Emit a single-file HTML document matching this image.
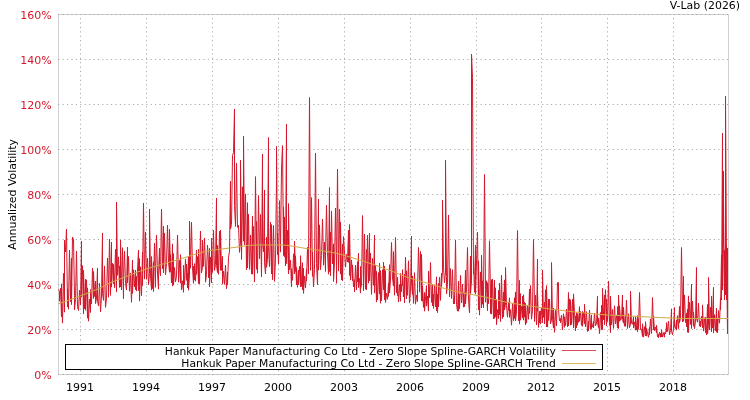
<!DOCTYPE html><html><head><meta charset="utf-8"><title>V-Lab</title><style>html,body{margin:0;padding:0;background:#fff;overflow:hidden}svg{display:block;will-change:transform}</style></head><body><svg width="750" height="400" viewBox="0 0 750 400"><rect width="750" height="400" fill="#fff"/><rect x="58.5" y="14.5" width="670" height="360" fill="none" stroke="#d0d0d0" stroke-width="1"/><g stroke="#a6a6a6" stroke-width="1" stroke-dasharray="1.1 3.3"><line x1="80.5" y1="14.5" x2="80.5" y2="374" stroke-dashoffset="0.75" /><line x1="146.5" y1="14.5" x2="146.5" y2="374" stroke-dashoffset="0.75" /><line x1="212.5" y1="14.5" x2="212.5" y2="374" stroke-dashoffset="0.75" /><line x1="278.5" y1="14.5" x2="278.5" y2="374" stroke-dashoffset="0.75" /><line x1="344.5" y1="14.5" x2="344.5" y2="374" stroke-dashoffset="0.75" /><line x1="410.5" y1="14.5" x2="410.5" y2="374" stroke-dashoffset="0.75" /><line x1="476.5" y1="14.5" x2="476.5" y2="374" stroke-dashoffset="0.75" /><line x1="541.5" y1="14.5" x2="541.5" y2="374" stroke-dashoffset="0.75" /><line x1="607.5" y1="14.5" x2="607.5" y2="374" stroke-dashoffset="0.75" /><line x1="673.5" y1="14.5" x2="673.5" y2="374" stroke-dashoffset="0.75" /><line x1="58.25" y1="14.5" x2="728" y2="14.5" /><line x1="58.25" y1="59.5" x2="728" y2="59.5" /><line x1="58.25" y1="104.5" x2="728" y2="104.5" /><line x1="58.25" y1="149.5" x2="728" y2="149.5" /><line x1="58.25" y1="194.5" x2="728" y2="194.5" /><line x1="58.25" y1="239.5" x2="728" y2="239.5" /><line x1="58.25" y1="284.5" x2="728" y2="284.5" /><line x1="58.25" y1="329.5" x2="728" y2="329.5" /><line x1="58.25" y1="374.5" x2="728" y2="374.5" /></g><polyline points="58.50,289.4 59.50,291.6 59.50,301.2 60.50,288.2 61.50,316.9 61.50,283.8 62.50,323.1 63.50,273.4 64.50,312.2 64.50,240.0 65.50,252.0 66.50,229.0 67.50,307.0 67.50,288.9 68.50,309.2 68.50,303.2 69.50,250.0 70.50,298.8 70.50,301.6 71.50,258.1 71.50,304.6 72.50,237.0 73.50,240.0 74.50,295.6 74.50,309.8 75.50,299.6 76.50,251.0 77.50,306.8 78.50,310.5 79.50,290.1 80.50,304.8 81.50,241.0 81.50,297.1 82.50,265.6 83.50,313.7 83.50,270.4 84.50,309.0 85.50,279.3 85.50,310.3 86.50,279.8 87.50,318.2 87.50,287.9 88.50,321.2 89.50,299.0 90.50,312.5 90.50,289.6 91.50,303.9 92.50,268.0 93.50,298.5 93.50,271.5 94.50,296.5 95.50,281.0 95.50,303.6 96.50,298.1 97.50,268.0 97.50,301.3 98.50,305.9 99.50,283.4 100.50,311.8 101.50,296.1 102.50,233.0 102.50,293.6 103.50,300.3 104.50,265.9 105.50,307.3 106.50,298.2 107.50,258.0 108.50,284.8 108.50,297.2 109.50,239.1 110.50,295.4 111.50,242.0 111.50,287.1 112.50,263.3 113.50,283.7 113.50,264.4 114.50,287.7 115.50,249.4 116.50,292.1 116.50,202.0 117.50,275.3 118.50,256.9 119.50,287.5 119.50,265.9 120.50,287.0 120.50,240.0 121.50,289.9 122.50,247.7 123.50,299.0 123.50,281.5 124.50,251.0 125.50,283.6 126.50,290.0 127.50,247.0 127.50,282.8 128.50,256.4 129.50,291.2 130.50,273.2 131.50,302.3 132.50,260.0 132.50,293.4 133.50,269.7 134.50,286.8 135.50,270.1 135.50,289.7 136.50,276.4 136.50,291.1 138.50,250.0 138.50,290.7 139.50,258.5 139.50,301.1 140.50,266.8 141.50,295.7 142.50,252.2 142.50,285.5 143.50,203.0 144.50,279.1 145.50,232.2 146.50,279.3 147.50,258.1 148.50,284.6 149.50,273.4 149.50,209.0 150.50,275.8 151.50,290.1 151.50,256.5 152.50,288.6 153.50,261.8 153.50,291.5 154.50,243.1 155.50,287.3 155.50,275.9 156.50,235.0 157.50,273.1 158.50,289.2 158.50,276.1 159.50,248.0 159.50,266.2 160.50,275.6 161.50,209.0 162.50,268.7 163.50,226.2 163.50,273.0 164.50,233.3 165.50,274.9 166.50,263.4 167.50,225.0 168.50,262.1 169.50,272.3 169.50,229.0 170.50,271.7 170.50,254.6 171.50,282.8 172.50,243.9 172.50,286.1 173.50,253.5 173.50,285.1 174.50,267.5 175.50,281.8 176.50,276.3 177.50,235.0 178.50,274.5 178.50,282.2 179.50,260.5 180.50,283.2 180.50,254.7 181.50,289.8 182.50,280.8 183.50,292.3 183.50,265.0 184.50,284.7 185.50,258.9 186.50,280.3 186.50,264.0 187.50,284.6 187.50,273.6 187.50,288.0 188.50,256.6 188.50,290.2 189.50,275.3 189.50,221.0 190.50,268.3 191.50,222.0 192.50,267.8 193.50,283.3 193.50,266.2 194.50,280.1 194.50,263.6 195.50,281.2 196.50,250.0 196.50,274.3 197.50,256.6 198.50,283.7 198.50,249.4 199.50,283.7 200.50,231.0 201.50,272.8 202.50,267.1 202.50,240.0 203.50,266.3 204.50,238.0 205.50,270.3 205.50,282.2 206.50,274.3 207.50,245.0 208.50,264.8 208.50,277.8 209.50,248.4 209.50,286.9 210.50,257.2 211.50,282.9 211.50,238.1 212.50,272.5 213.50,230.0 214.50,270.5 215.50,264.4 216.50,198.0 216.50,265.6 217.50,272.6 217.50,245.4 218.50,274.3 219.50,231.2 220.50,270.3 220.50,230.0 221.50,270.4 222.50,256.4 222.50,284.2 223.50,271.2 224.50,284.4 225.50,265.3 226.50,288.7 227.50,272.1 227.50,284.7 228.50,257.7 229.50,251.0 230.50,181.0 230.50,229.0 231.50,224.5 232.50,155.5 233.50,152.5 234.50,109.0 234.50,205.5 235.50,226.5 236.50,163.0 237.50,227.4 238.50,225.3 239.50,252.4 240.50,242.0 240.50,160.0 241.50,240.6 241.50,259.4 242.50,186.8 243.50,241.2 243.50,136.0 244.50,244.7 245.50,193.9 246.50,269.8 247.50,202.7 247.50,268.0 248.50,214.3 249.50,269.4 250.50,235.1 251.50,274.1 252.50,216.0 252.50,274.2 253.50,226.4 254.50,282.0 255.50,176.6 256.50,269.3 256.50,221.5 257.50,273.2 258.50,195.5 259.50,258.7 260.50,214.5 261.50,276.9 262.50,154.0 262.50,243.5 263.50,251.9 264.50,190.0 264.50,262.8 265.50,274.0 266.50,237.3 266.50,267.3 267.50,259.6 268.50,137.5 268.50,247.7 269.50,266.5 270.50,222.2 271.50,274.0 271.50,224.6 272.50,279.7 273.50,225.5 274.50,281.4 275.50,259.8 276.50,179.5 276.50,146.5 277.50,254.7 277.50,233.4 278.50,264.1 279.50,200.6 280.50,252.1 280.50,247.5 281.50,169.0 282.50,145.6 283.50,255.5 283.50,206.9 284.50,256.9 284.50,217.0 285.50,266.0 286.50,124.0 286.50,263.6 287.50,230.4 288.50,273.8 288.50,203.6 289.50,269.8 290.50,260.2 291.50,286.9 291.50,268.8 292.50,280.3 293.50,253.8 294.50,273.8 294.50,241.4 295.50,271.4 295.50,255.8 296.50,284.8 296.50,267.6 297.50,287.3 298.50,270.0 298.50,284.6 299.50,266.4 300.50,286.9 300.50,255.7 301.50,286.5 302.50,262.7 302.50,289.9 303.50,268.3 303.50,293.4 304.50,276.2 305.50,287.8 306.50,269.4 306.50,281.1 307.50,247.2 308.50,274.1 308.50,267.3 309.50,97.5 310.50,257.3 310.50,270.3 311.50,197.6 312.50,276.4 312.50,252.2 313.50,286.9 314.50,269.7 315.50,153.0 316.50,263.7 317.50,284.7 318.50,199.0 318.50,270.1 319.50,224.8 320.50,269.7 321.50,255.4 322.50,219.0 323.50,258.7 323.50,265.2 324.50,242.2 325.50,271.5 325.50,255.8 326.50,205.0 327.50,252.5 328.50,274.2 329.50,187.5 329.50,271.5 330.50,232.3 330.50,275.9 331.50,211.0 332.50,264.0 333.50,243.8 333.50,281.5 334.50,262.9 335.50,208.0 336.50,265.4 336.50,283.3 337.50,169.0 338.50,271.1 339.50,209.0 340.50,274.1 340.50,222.1 341.50,280.0 342.50,244.3 342.50,280.8 343.50,236.6 345.50,267.2 346.50,254.3 347.50,262.0 348.50,230.0 348.50,262.4 349.50,234.3 349.50,275.4 349.50,224.5 350.50,280.1 351.50,259.9 352.50,280.8 352.50,264.9 353.50,287.0 354.50,279.7 354.50,291.8 355.50,265.0 356.50,290.0 357.50,261.7 357.50,281.8 358.50,253.2 358.50,287.7 359.50,278.4 360.50,293.1 360.50,266.5 360.50,289.2 361.50,285.6 362.50,215.6 363.50,279.8 363.50,290.6 364.50,234.2 365.50,289.2 366.50,249.5 366.50,289.8 367.50,235.2 368.50,283.2 369.50,233.1 369.50,280.8 370.50,253.0 371.50,294.4 372.50,258.4 373.50,285.3 374.50,235.0 374.50,293.1 375.50,264.9 376.50,302.1 376.50,271.4 377.50,299.7 378.50,272.6 379.50,294.1 379.50,263.0 380.50,303.3 380.50,270.6 381.50,300.8 382.50,269.7 383.50,289.7 383.50,262.1 384.50,299.9 384.50,266.2 385.50,301.1 385.50,270.5 385.50,302.4 386.50,293.3 387.50,299.3 388.50,283.1 388.50,296.4 389.50,264.7 389.50,293.0 390.50,280.1 391.50,242.5 392.50,278.0 393.50,286.0 393.50,251.6 394.50,295.2 395.50,237.5 396.50,292.9 396.50,285.4 397.50,295.7 397.50,277.4 398.50,301.9 399.50,284.6 400.50,301.3 400.50,273.5 401.50,291.7 401.50,284.1 402.50,285.4 402.50,269.7 403.50,296.8 404.50,274.0 404.50,303.0 405.50,257.0 406.50,298.9 406.50,270.9 407.50,295.3 408.50,260.8 409.50,303.1 410.50,291.2 411.50,236.0 411.50,282.1 412.50,294.5 412.50,275.9 413.50,303.4 414.50,272.7 415.50,304.2 416.50,295.3 417.50,301.6 417.50,288.7 418.50,247.5 419.50,281.8 419.50,292.1 420.50,251.5 421.50,300.8 421.50,254.3 422.50,301.2 422.50,286.0 423.50,307.4 424.50,292.5 424.50,311.2 426.50,285.7 426.50,306.1 427.50,296.0 428.50,311.1 428.50,271.1 429.50,297.8 430.50,262.5 431.50,302.4 432.50,284.4 432.50,305.9 433.50,294.3 433.50,308.4 434.50,284.8 435.50,306.8 436.50,276.8 436.50,310.8 437.50,294.1 437.50,312.6 438.50,283.6 438.50,307.0 439.50,277.3 440.50,300.4 441.50,273.2 441.50,286.3 442.50,270.9 442.50,200.0 443.50,267.2 444.50,282.7 445.50,272.1 445.50,160.0 446.50,276.5 446.50,294.0 447.50,284.4 448.50,215.0 449.50,287.0 449.50,296.9 450.50,268.6 451.50,298.5 452.50,269.7 453.50,304.0 454.50,296.3 454.50,303.5 454.50,303.9 455.50,240.0 456.50,304.6 457.50,311.1 458.50,281.2 458.50,311.2 459.50,294.6 459.50,308.7 460.50,275.4 461.50,303.0 462.50,284.2 463.50,307.2 463.50,292.9 464.50,306.8 465.50,270.2 465.50,304.0 466.50,289.0 467.50,247.5 468.50,300.2 469.50,312.8 470.50,256.1 470.50,293.5 471.50,280.9 471.50,54.0 472.50,77.5 473.50,274.1 473.50,260.6 474.50,292.3 475.50,245.0 475.50,294.3 477.50,232.0 478.50,309.8 478.50,260.8 479.50,315.1 480.50,271.9 481.50,308.0 481.50,255.1 482.50,304.2 482.50,280.8 483.50,307.7 483.50,295.3 484.50,174.5 485.50,289.4 485.50,302.2 486.50,280.8 487.50,310.8 487.50,282.6 488.50,299.4 488.50,303.7 489.50,240.8 490.50,294.5 490.50,313.6 491.50,279.7 491.50,314.1 492.50,279.0 493.50,318.8 494.50,280.2 494.50,318.3 495.50,287.8 495.50,317.1 496.50,299.6 496.50,324.6 497.50,309.6 498.50,318.6 498.50,290.3 499.50,314.9 499.50,283.2 500.50,321.6 501.50,275.1 502.50,318.5 503.50,292.2 503.50,316.9 504.50,279.9 504.50,309.9 505.50,304.2 505.50,267.5 506.50,305.4 507.50,317.2 508.50,303.0 508.50,310.3 509.50,297.8 509.50,317.4 510.50,309.6 511.50,325.2 512.50,303.5 513.50,320.7 514.50,297.8 514.50,318.4 515.50,291.9 515.50,320.9 516.50,312.0 517.50,230.5 518.50,311.8 518.50,320.9 519.50,280.4 519.50,324.1 520.50,293.6 520.50,320.1 521.50,306.4 522.50,318.1 522.50,296.1 523.50,320.1 523.50,294.7 524.50,317.1 524.50,302.3 525.50,325.0 525.50,303.3 526.50,323.2 527.50,305.4 528.50,319.3 529.50,289.2 529.50,313.4 530.50,285.6 531.50,319.2 532.50,310.8 533.50,239.5 534.50,309.6 534.50,321.5 535.50,295.2 536.50,324.9 537.50,259.0 537.50,311.2 537.50,291.0 538.50,327.4 539.50,311.2 539.50,322.9 540.50,310.9 540.50,324.1 541.50,307.8 542.50,322.7 542.50,270.0 543.50,317.4 544.50,302.2 544.50,323.8 545.50,289.7 546.50,327.0 546.50,285.7 547.50,327.1 548.50,299.2 548.50,320.5 549.50,299.2 550.50,323.8 551.50,320.2 551.50,262.5 552.50,319.3 553.50,328.0 553.50,308.0 554.50,332.3 555.50,310.4 556.50,325.9 557.50,282.5 558.50,282.5 558.50,309.8 559.50,320.9 560.50,318.7 560.50,322.7 561.50,315.1 562.50,330.0 563.50,313.7 564.50,327.3 564.50,316.8 565.50,325.7 566.50,309.1 567.50,326.8 568.50,292.5 568.50,325.9 569.50,298.8 570.50,325.2 570.50,299.8 571.50,324.5 572.50,299.2 573.50,327.9 573.50,293.9 575.50,330.9 575.50,315.9 576.50,327.8 576.50,312.7 577.50,325.2 577.50,313.6 578.50,322.4 579.50,306.6 579.50,321.3 580.50,311.6 581.50,325.5 582.50,311.3 582.50,326.3 583.50,312.3 584.50,323.9 584.50,304.2 585.50,327.0 586.50,311.7 587.50,331.5 588.50,321.3 588.50,330.9 589.50,310.1 590.50,329.3 591.50,314.9 591.50,328.6 591.50,322.8 592.50,327.1 593.50,321.3 593.50,328.0 594.50,313.0 595.50,326.0 596.50,323.1 597.50,296.2 597.50,322.4 598.50,327.6 598.50,317.9 599.50,333.7 600.50,312.6 601.50,329.7 601.50,305.3 602.50,329.5 602.50,288.3 603.50,319.8 604.50,295.1 604.50,324.7 605.50,289.7 606.50,325.9 606.50,299.2 607.50,321.4 608.50,281.0 609.50,325.3 609.50,314.1 610.50,332.6 610.50,296.2 611.50,324.9 612.50,309.5 613.50,328.3 614.50,305.8 615.50,323.8 616.50,315.1 617.50,328.1 617.50,306.6 618.50,328.5 618.50,295.0 619.50,321.3 619.50,305.9 620.50,320.3 621.50,318.7 622.50,295.0 622.50,319.5 623.50,323.1 623.50,307.3 624.50,326.2 625.50,315.7 625.50,326.4 626.50,300.0 627.50,328.5 628.50,313.8 629.50,327.7 630.50,324.1 630.50,291.2 631.50,323.0 632.50,324.3 633.50,316.8 633.50,328.0 634.50,321.9 635.50,330.2 635.50,316.6 636.50,329.9 637.50,315.6 637.50,332.0 638.50,319.1 638.50,329.2 639.50,292.5 640.50,329.6 641.50,329.1 642.50,336.5 642.50,323.8 643.50,337.1 644.50,326.7 645.50,336.0 645.50,321.7 646.50,336.1 646.50,328.4 648.50,337.3 649.50,327.4 649.50,334.6 650.50,318.9 651.50,333.5 652.50,297.5 653.50,329.9 653.50,316.2 654.50,330.7 655.50,327.1 656.50,333.0 656.50,325.3 657.50,336.8 658.50,334.0 658.50,337.7 659.50,332.2 660.50,337.2 660.50,333.2 661.50,337.0 661.50,329.8 662.50,337.1 663.50,332.6 664.50,337.2 664.50,332.5 665.50,334.0 666.50,326.2 666.50,331.9 666.50,322.7 667.50,331.5 668.50,321.0 669.50,334.8 670.50,330.4 671.50,308.8 671.50,331.3 672.50,334.8 673.50,329.0 674.50,307.5 674.50,326.3 675.50,328.8 676.50,320.1 676.50,330.2 677.50,315.7 678.50,328.7 679.50,306.4 679.50,322.7 680.50,317.9 681.50,247.5 682.50,310.3 682.50,322.0 683.50,276.2 683.50,321.3 684.50,294.9 685.50,322.5 686.50,313.4 686.50,326.8 687.50,309.2 687.50,332.3 688.50,295.9 688.50,332.5 689.50,302.3 690.50,324.5 691.50,284.3 691.50,328.5 692.50,301.2 693.50,326.2 693.50,312.1 694.50,328.7 695.50,321.1 696.50,267.5 696.50,318.1 697.50,322.2 698.50,303.0 699.50,326.2 700.50,321.0 700.50,326.8 701.50,316.4 702.50,327.7 702.50,304.9 703.50,331.1 704.50,317.7 705.50,332.6 705.50,317.2 706.50,334.8 707.50,304.4 707.50,334.0 708.50,325.5 708.50,277.5 709.50,326.1 709.50,329.9 710.50,307.2 711.50,332.0 711.50,296.3 712.50,328.1 713.50,287.3 713.50,333.1 714.50,314.7 715.50,331.0 716.50,308.0 716.50,332.2 717.50,319.3 717.50,333.0 718.50,310.6 719.50,323.2 720.50,297.9 720.50,310.0 721.50,255.0 721.50,300.0 722.50,133.0 722.50,290.0 723.50,240.0 723.50,171.0 723.50,200.0 724.50,300.0 724.50,250.0 725.50,295.0 725.50,96.0 726.50,260.0 726.50,300.0 726.50,245.0 727.50,334.0 727.50,248.0" fill="none" stroke="#d5192c" stroke-width="1" stroke-linejoin="round"/><polyline points="58.0,304.0 60.0,303.3 62.0,302.6 64.0,301.9 66.0,301.2 68.0,300.5 70.0,299.7 72.0,299.0 74.0,298.3 76.0,297.5 78.0,296.8 80.0,296.0 82.0,295.2 84.0,294.5 86.0,293.7 88.0,293.0 90.0,292.2 92.0,291.4 94.0,290.6 96.0,289.8 98.0,288.9 100.0,288.0 102.0,287.0 104.0,285.9 106.0,284.8 108.0,283.8 110.0,282.9 112.0,282.1 114.0,281.3 116.0,280.5 118.0,279.8 120.0,279.0 122.0,278.2 124.0,277.4 126.0,276.6 128.0,275.8 130.0,275.0 132.0,274.2 134.0,273.4 136.0,272.6 138.0,271.8 140.0,271.1 142.0,270.4 144.0,269.7 146.0,269.0 148.0,268.4 150.0,267.8 152.0,267.2 154.0,266.6 156.0,266.1 158.0,265.5 160.0,264.9 162.0,264.3 164.0,263.7 166.0,263.1 168.0,262.5 170.0,261.9 172.0,261.4 174.0,260.8 176.0,260.2 178.0,259.6 180.0,259.0 182.0,258.4 184.0,257.8 186.0,257.2 188.0,256.5 190.0,255.9 192.0,255.2 194.0,254.6 196.0,254.0 198.0,253.4 200.0,252.9 202.0,252.3 204.0,251.8 206.0,251.4 208.0,251.0 210.0,250.6 212.0,250.3 214.0,250.0 216.0,249.7 218.0,249.5 220.0,249.2 222.0,249.0 224.0,248.7 226.0,248.5 228.0,248.2 230.0,248.0 232.0,247.7 234.0,247.5 236.0,247.2 238.0,246.9 240.0,246.6 242.0,246.3 244.0,246.1 246.0,245.8 248.0,245.6 250.0,245.4 252.0,245.2 254.0,245.1 256.0,245.0 258.0,245.0 260.0,245.0 262.0,245.0 264.0,245.0 266.0,245.0 268.0,245.0 270.0,245.0 272.0,245.0 274.0,245.0 276.0,245.0 278.0,245.0 280.0,245.0 282.0,245.0 284.0,245.1 286.0,245.3 288.0,245.5 290.0,245.8 292.0,246.1 294.0,246.4 296.0,246.7 298.0,247.1 300.0,247.4 302.0,247.8 304.0,248.1 306.0,248.5 308.0,248.8 310.0,249.0 312.0,249.3 314.0,249.6 316.0,249.8 318.0,250.1 320.0,250.4 322.0,250.7 324.0,251.0 326.0,251.3 328.0,251.6 330.0,252.0 332.0,252.4 334.0,252.8 336.0,253.3 338.0,253.8 340.0,254.3 342.0,254.8 344.0,255.4 346.0,255.9 348.0,256.5 350.0,257.1 352.0,257.7 354.0,258.3 356.0,258.9 358.0,259.5 360.0,260.1 362.0,260.7 364.0,261.4 366.0,262.0 368.0,262.7 370.0,263.4 372.0,264.0 374.0,264.7 376.0,265.4 378.0,266.1 380.0,266.9 382.0,267.6 384.0,268.3 386.0,269.0 388.0,269.8 390.0,270.5 392.0,271.3 394.0,272.0 396.0,272.9 398.0,273.7 400.0,274.5 402.0,275.3 404.0,276.1 406.0,276.8 408.0,277.5 410.0,278.1 412.0,278.7 414.0,279.3 416.0,279.9 418.0,280.4 420.0,281.0 422.0,281.6 424.0,282.2 426.0,282.8 428.0,283.4 430.0,284.0 432.0,284.6 434.0,285.2 436.0,285.8 438.0,286.4 440.0,287.0 442.0,287.7 444.0,288.3 446.0,288.9 448.0,289.4 450.0,290.0 452.0,290.5 454.0,291.1 456.0,291.5 458.0,292.0 460.0,292.4 462.0,292.8 464.0,293.2 466.0,293.5 468.0,293.9 470.0,294.2 472.0,294.5 474.0,294.9 476.0,295.2 478.0,295.6 480.0,296.0 482.0,296.4 484.0,296.9 486.0,297.3 488.0,297.8 490.0,298.3 492.0,298.8 494.0,299.3 496.0,299.8 498.0,300.3 500.0,300.8 502.0,301.2 504.0,301.7 506.0,302.1 508.0,302.5 510.0,302.9 512.0,303.2 514.0,303.6 516.0,303.9 518.0,304.2 520.0,304.5 522.0,304.8 524.0,305.1 526.0,305.4 528.0,305.7 530.0,306.0 532.0,306.3 534.0,306.6 536.0,306.9 538.0,307.2 540.0,307.5 542.0,307.8 544.0,308.1 546.0,308.4 548.0,308.7 550.0,308.9 552.0,309.2 554.0,309.5 556.0,309.7 558.0,310.0 560.0,310.2 562.0,310.5 564.0,310.7 566.0,311.0 568.0,311.2 570.0,311.4 572.0,311.7 574.0,311.9 576.0,312.1 578.0,312.3 580.0,312.5 582.0,312.7 584.0,312.9 586.0,313.1 588.0,313.3 590.0,313.5 592.0,313.7 594.0,313.9 596.0,314.1 598.0,314.3 600.0,314.4 602.0,314.6 604.0,314.7 606.0,314.9 608.0,315.0 610.0,315.1 612.0,315.2 614.0,315.3 616.0,315.4 618.0,315.5 620.0,315.6 622.0,315.7 624.0,315.7 626.0,315.8 628.0,315.9 630.0,316.0 632.0,316.1 634.0,316.2 636.0,316.3 638.0,316.4 640.0,316.5 642.0,316.7 644.0,316.8 646.0,316.9 648.0,317.0 650.0,317.1 652.0,317.2 654.0,317.3 656.0,317.4 658.0,317.5 660.0,317.6 662.0,317.7 664.0,317.7 666.0,317.8 668.0,317.9 670.0,318.0 672.0,318.1 674.0,318.2 676.0,318.2 678.0,318.3 680.0,318.4 682.0,318.4 684.0,318.4 686.0,318.5 688.0,318.5 690.0,318.5 692.0,318.5 694.0,318.5 696.0,318.5 698.0,318.5 700.0,318.5 702.0,318.5 704.0,318.5 706.0,318.5 708.0,318.5 710.0,318.5 712.0,318.5 714.0,318.5 716.0,318.5 718.0,318.5 720.0,318.5 722.0,318.5 724.0,318.5 726.0,318.5 728.0,318.5" fill="none" stroke="#d3aa45" stroke-width="1"/><rect x="65.5" y="344.5" width="537" height="25" fill="#fff" stroke="#000" stroke-width="1"/><text x="555.8" y="354.7" font-family="DejaVu Sans, Liberation Sans, sans-serif" font-size="10.755" text-anchor="end" fill="#000">Hankuk Paper Manufacturing Co Ltd - Zero Slope Spline-GARCH Volatility</text><text x="555.8" y="366.7" font-family="DejaVu Sans, Liberation Sans, sans-serif" font-size="10.78" text-anchor="end" fill="#000">Hankuk Paper Manufacturing Co Ltd - Zero Slope Spline-GARCH Trend</text><line x1="562" y1="350.5" x2="596" y2="350.5" stroke="#dd4a5a" stroke-width="1.1"/><line x1="562" y1="363.5" x2="596" y2="363.5" stroke="#dcbd5c" stroke-width="1.1"/><text x="51.6" y="19" font-family="DejaVu Sans, Liberation Sans, sans-serif" font-size="11" text-anchor="end" fill="#d5192c">160%</text><text x="51.6" y="64" font-family="DejaVu Sans, Liberation Sans, sans-serif" font-size="11" text-anchor="end" fill="#d5192c">140%</text><text x="51.6" y="109" font-family="DejaVu Sans, Liberation Sans, sans-serif" font-size="11" text-anchor="end" fill="#d5192c">120%</text><text x="51.6" y="154" font-family="DejaVu Sans, Liberation Sans, sans-serif" font-size="11" text-anchor="end" fill="#d5192c">100%</text><text x="51.6" y="199" font-family="DejaVu Sans, Liberation Sans, sans-serif" font-size="11" text-anchor="end" fill="#d5192c">80%</text><text x="51.6" y="244" font-family="DejaVu Sans, Liberation Sans, sans-serif" font-size="11" text-anchor="end" fill="#d5192c">60%</text><text x="51.6" y="289" font-family="DejaVu Sans, Liberation Sans, sans-serif" font-size="11" text-anchor="end" fill="#d5192c">40%</text><text x="51.6" y="334" font-family="DejaVu Sans, Liberation Sans, sans-serif" font-size="11" text-anchor="end" fill="#d5192c">20%</text><text x="51.6" y="379" font-family="DejaVu Sans, Liberation Sans, sans-serif" font-size="11" text-anchor="end" fill="#d5192c">0%</text><text x="79.95" y="391" font-family="DejaVu Sans, Liberation Sans, sans-serif" font-size="11" text-anchor="middle" fill="#000">1991</text><text x="145.95" y="391" font-family="DejaVu Sans, Liberation Sans, sans-serif" font-size="11" text-anchor="middle" fill="#000">1994</text><text x="211.95" y="391" font-family="DejaVu Sans, Liberation Sans, sans-serif" font-size="11" text-anchor="middle" fill="#000">1997</text><text x="277.95" y="391" font-family="DejaVu Sans, Liberation Sans, sans-serif" font-size="11" text-anchor="middle" fill="#000">2000</text><text x="343.95" y="391" font-family="DejaVu Sans, Liberation Sans, sans-serif" font-size="11" text-anchor="middle" fill="#000">2003</text><text x="409.95" y="391" font-family="DejaVu Sans, Liberation Sans, sans-serif" font-size="11" text-anchor="middle" fill="#000">2006</text><text x="475.95" y="391" font-family="DejaVu Sans, Liberation Sans, sans-serif" font-size="11" text-anchor="middle" fill="#000">2009</text><text x="540.95" y="391" font-family="DejaVu Sans, Liberation Sans, sans-serif" font-size="11" text-anchor="middle" fill="#000">2012</text><text x="606.95" y="391" font-family="DejaVu Sans, Liberation Sans, sans-serif" font-size="11" text-anchor="middle" fill="#000">2015</text><text x="672.95" y="391" font-family="DejaVu Sans, Liberation Sans, sans-serif" font-size="11" text-anchor="middle" fill="#000">2018</text><text transform="translate(16.2,194.4) rotate(-90)" font-family="DejaVu Sans, Liberation Sans, sans-serif" font-size="10.9" text-anchor="middle" fill="#000">Annualized Volatility</text><text x="740.1" y="8.7" font-family="DejaVu Sans, Liberation Sans, sans-serif" font-size="10.95" text-anchor="end" fill="#000">V-Lab (2026)</text></svg></body></html>
